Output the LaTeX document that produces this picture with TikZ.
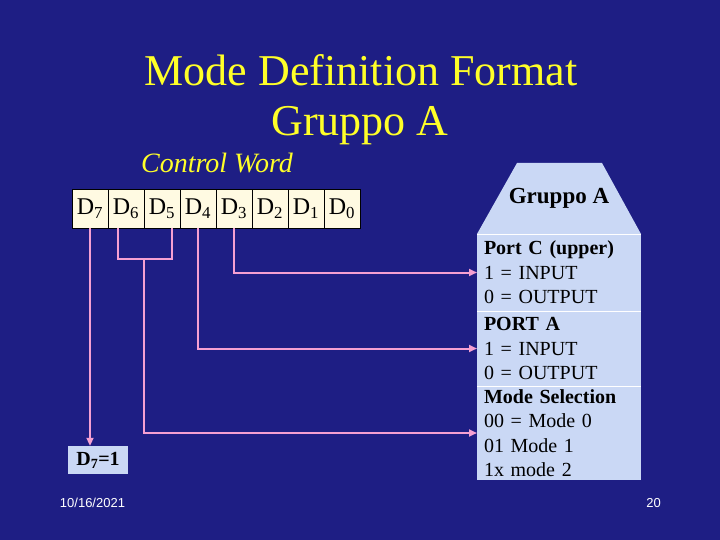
\documentclass[tikz,border=0pt]{standalone}
\usepackage{fontspec}
\setmainfont{Liberation Serif}
\newfontfamily\footfont{Liberation Sans}
\usepackage{tikz}
\usetikzlibrary{arrows.meta,positioning}
\definecolor{slidebg}{RGB}{30,30,132}
\definecolor{slideyellow}{RGB}{255,255,40}
\definecolor{wirepink}{RGB}{245,160,210}
\definecolor{cellcream}{RGB}{255,250,226}
\definecolor{panelblue}{RGB}{202,216,245}
\tikzstyle{titletext}=[text=slideyellow,font=\fontsize{44}{50}\selectfont,inner sep=0pt]
\tikzstyle{bitcell}=[draw=black,line width=.6pt,fill=cellcream,minimum width=36pt,minimum height=39pt,inner sep=0pt,font=\fontsize{24}{28}\selectfont]
\tikzstyle{section}=[fill=panelblue,minimum width=164pt,text width=150pt,inner xsep=7pt,inner ysep=0pt,outer sep=0pt,align=left,font=\fontsize{20}{24.5}\selectfont]
\tikzstyle{wire}=[wirepink,line width=2pt]
\tikzstyle{tip}=[-{Triangle[length=8pt,width=7pt]}]

\begin{document}
\begin{tikzpicture}[x=1pt,y=-1pt]
\fill[slidebg] (0,0) rectangle (720,540);
\useasboundingbox (0,0) rectangle (720,540);
% title
\node[titletext,anchor=base] (title1) at (361,86) {Mode Definition Format};
\node[titletext,anchor=base] (title2) at (360,136) {Gruppo A};
\node[anchor=base,text=slideyellow,inner sep=0pt,font=\fontsize{28}{32}\selectfont\itshape] (cword) at (217,173) {Control Word};
% control word bits
\foreach \i in {7,...,0}
  \node[bitcell] (d\i) at ({90+(7-\i)*36},208.5) {D\textsubscript{\i}};
% group A panel
\node[minimum width=164pt,minimum height=71pt,inner sep=0pt,outer sep=0pt,font=\fontsize{23}{27}\selectfont\bfseries] (head) at (559,198.5) {};
\fill[panelblue] (head.south west) -- ([xshift=40pt]head.north west)
  -- ([xshift=-39pt]head.north east) -- (head.south east) -- cycle;
\node[font=\fontsize{23}{27}\selectfont\bfseries] (headtext) at (head.center) {Gruppo A};
\node[section,minimum height=77pt,below=0pt of head] (portc) {\textbf{Port C (upper)}\\1 = INPUT\\0 = OUTPUT};
\node[section,minimum height=75pt,below=0pt of portc] (porta) {\textbf{PORT A}\\1 = INPUT\\0 = OUTPUT};
\node[section,minimum height=94pt,below=0pt of porta] (modesel) {\textbf{Mode Selection}\\00 = Mode 0\\01 Mode 1\\1x mode 2};
\draw[white,line width=.8pt] (portc.north west) -- (portc.north east);
\draw[white,line width=.8pt] (porta.north west) -- (porta.north east);
\draw[white,line width=.8pt] (modesel.north west) -- (modesel.north east);
% D7 result
\node[fill=panelblue,minimum width=60pt,minimum height=28pt,inner sep=0pt,font=\fontsize{20}{24}\selectfont\bfseries] (d7one) at (98,460) {D\textsubscript{7}=1};
% connectors
\coordinate (b6) at ([xshift=-8pt]d6.south);
\coordinate (b5) at ([xshift=10pt]d5.south);
\coordinate (join) at (143.5,259);
\draw[wire] (b6) |- (join) -| (b5);
\draw[wire,tip] (join) |- (modesel.west);
\draw[wire,tip] (d4.south) |- (porta.west);
\draw[wire,tip] (d3.south) |- (portc.west);
\draw[wire,tip] (d7.south) -- (d7.south |- d7one.north);
% footer
\node[text=white,font=\footfont\fontsize{13}{15}\selectfont] (date) at (92.5,503) {10/16/2021};
\node[text=white,font=\footfont\fontsize{13}{15}\selectfont] (page) at (653.5,503) {20};
\end{tikzpicture}
\end{document}
